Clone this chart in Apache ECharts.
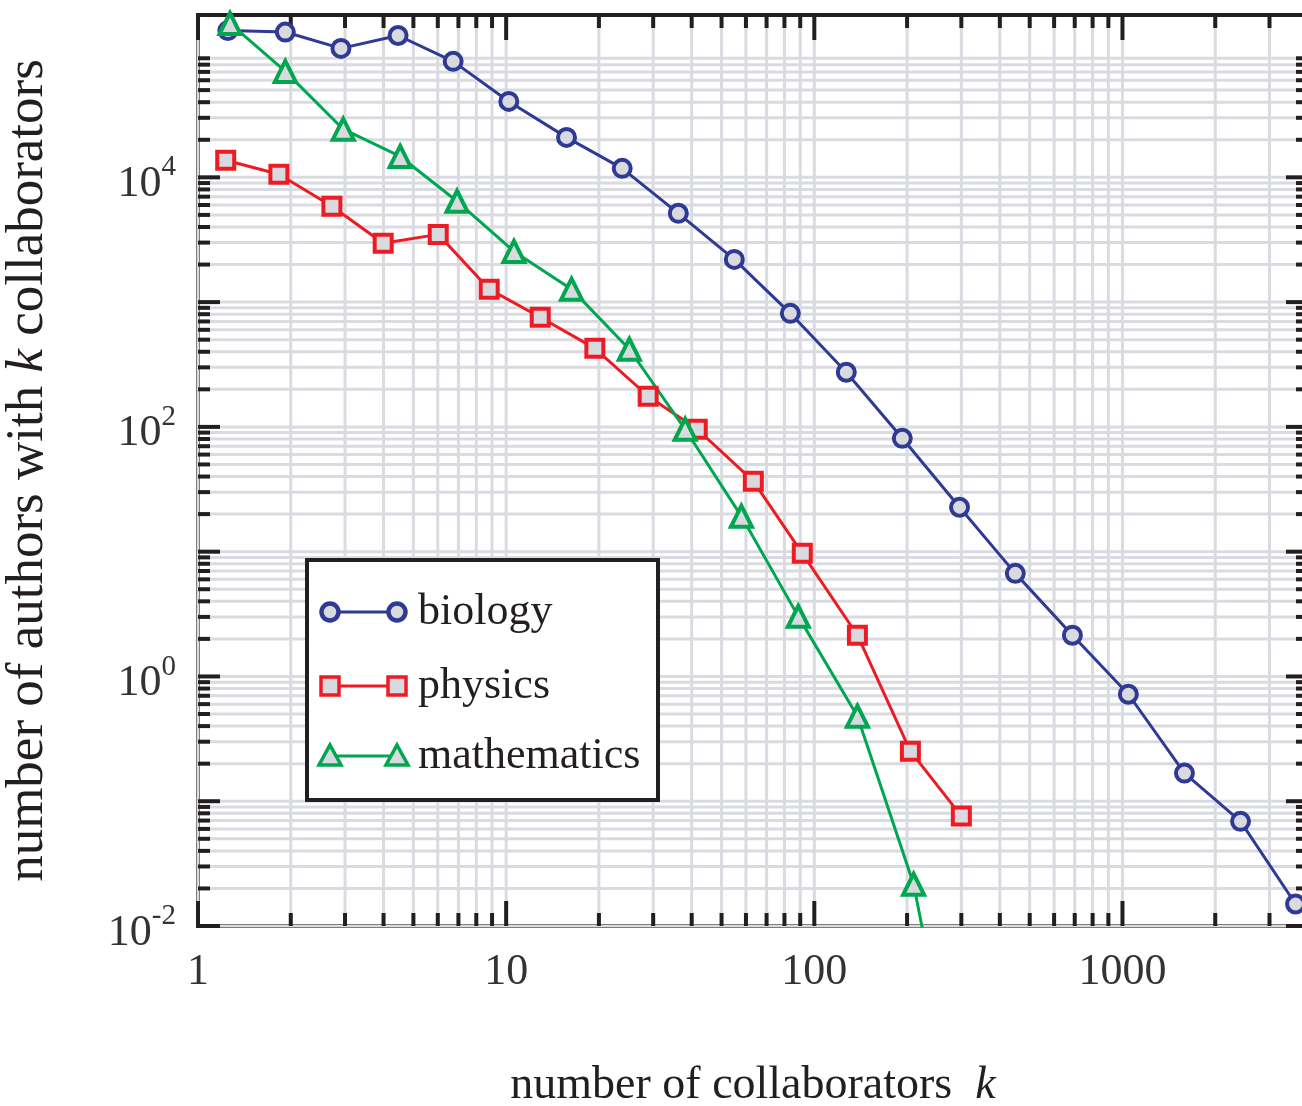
<!DOCTYPE html>
<html>
<head>
<meta charset="utf-8">
<title>collaborators</title>
<script src="https://cdn.jsdelivr.net/npm/echarts@6/dist/echarts.min.js"></script>
<style>
    html,body{margin:0;padding:0;background:#fff;}
    #container{width:1302px;height:1106px;}
</style>
</head>
<body>
<div id="container"></div>
<script>
// values (k, number of authors)
var bioK=[1.25,1.92,2.91,4.46,6.73,10.2,15.7,23.8,36.2,55,83.6,127,193,296,449,688,1045,1589,2416,3645];
var bioN=[1.5e5,1.46e5,1.08e5,1.37e5,8.5e4,4.06e4,2.09e4,1.18e4,5150,2200,813,274,81,22.7,6.7,2.14,0.72,0.168,0.069,0.015];

var physK=[1.23,1.83,2.72,3.99,6.02,8.81,12.9,19.4,28.9,41.7,63.4,91.4,138,205,300];
var physN=[1.37e4,1.06e4,5860,2960,3490,1270,756,426,176,95.7,36.7,9.7,2.14,0.252,0.076];

var mathK=[1.27,1.92,2.96,4.53,6.93,10.6,16.3,25.1,38.1,58,88.7,138,210,300];
var mathN=[1.71e5,7.06e4,2.43e4,1.47e4,6430,2550,1270,419,95.7,19.2,3.03,0.48,0.0216,2.5e-4];

var names=['biology','physics','mathematics'];

var xMin=1,xMax=4000;
var yMin=0.01,yMax=2e5;

var BLUE='#2e3a94',RED='#ed1c24',GREEN='#00a650';
var FILL='#d9dadf',GRID='#d9dbe0',INK='#231f20';
var FONT='Liberation Serif';

function pairs(ks,ns){
    var out=[];
    for(var i=0;i<ks.length;i++){
        out.push([ks[i],ns[i]]);
    }
    return out;
}

// every 1..9 x 10^n inside [lo,hi]
function logSteps(lo,hi){
    var out=[];
    for(var n=-3;n<=4;n++){
        for(var k=1;k<=9;k++){
            var v=k*Math.pow(10,n);
            if(v>=lo*0.9999 && v<=hi*1.0001){
                out.push(+v.toPrecision(6));
            }
        }
    }
    return out;
}
function isDecade(v){
    var e=Math.log10(v);
    return Math.abs(e-Math.round(e))<1e-6;
}

var xSteps=logSteps(xMin,xMax).map(function(v){return [v,1];});
var ySteps=logSteps(yMin,yMax).map(function(v){return [1,v];});

function vLines(params,api){
    var cs=params.coordSys;
    var x=api.coord([api.value(0),1])[0];
    return {type:'line',shape:{x1:x,y1:cs.y,x2:x,y2:cs.y+cs.height},style:{stroke:GRID,lineWidth:3}};
}
function hLines(params,api){
    var cs=params.coordSys;
    var y=api.coord([1,api.value(1)])[1];
    return {type:'line',shape:{x1:cs.x,y1:y,x2:cs.x+cs.width,y2:y},style:{stroke:GRID,lineWidth:3}};
}
function vTicks(params,api){
    var cs=params.coordSys;
    var v=api.value(0);
    var x=api.coord([v,1])[0];
    var len=isDecade(v)?25:13;
    var b=cs.y+cs.height;
    return {type:'group',children:[
        {type:'line',shape:{x1:x,y1:b,x2:x,y2:b-len},style:{stroke:INK,lineWidth:4}},
        {type:'line',shape:{x1:x,y1:cs.y,x2:x,y2:cs.y+len},style:{stroke:INK,lineWidth:4}}
    ]};
}
function hTicks(params,api){
    var cs=params.coordSys;
    var v=api.value(1);
    var y=api.coord([1,v])[1];
    var len=isDecade(v)?22:12;
    var r=cs.x+cs.width;
    return {type:'group',children:[
        {type:'line',shape:{x1:cs.x,y1:y,x2:cs.x+len,y2:y},style:{stroke:INK,lineWidth:4}},
        {type:'line',shape:{x1:r,y1:y,x2:r-len,y2:y},style:{stroke:INK,lineWidth:4}}
    ]};
}

function dataSeries(name,ks,ns,color,symbol,size){
    return {
        name:name,
        type:'line',
        data:pairs(ks,ns),
        symbol:symbol,
        symbolSize:size,
        showAllSymbol:true,
        clip:true,
        z:5,
        lineStyle:{color:color,width:3},
        itemStyle:{color:FILL,borderColor:color,borderWidth:4},
        emphasis:{disabled:true}
    };
}

// legend box drawn like the original: symbol - line - symbol, then name
function legendItem(y,color,symbol,label){
    var kids=[];
    kids.push({type:'line',z:101,shape:{x1:330,y1:y,x2:397,y2:y},style:{stroke:color,lineWidth:3}});
    var xs=[330,397];
    for(var i=0;i<2;i++){
        var cx=xs[i];
        if(symbol=='circle'){
            kids.push({type:'circle',z:102,shape:{cx:cx,cy:y,r:8.5},style:{fill:FILL,stroke:color,lineWidth:4.5}});
        }else if(symbol=='rect'){
            kids.push({type:'rect',z:102,shape:{x:cx-9,y:y-9,width:18,height:18},style:{fill:FILL,stroke:color,lineWidth:3.5}});
        }else{
            kids.push({type:'polygon',z:102,shape:{points:[[cx,y-11],[cx+11,y+9],[cx-11,y+9]]},style:{fill:FILL,stroke:color,lineWidth:3.5}});
        }
    }
    kids.push({type:'text',z:102,x:418,y:y,style:{text:label,fill:INK,font:'44px "'+FONT+'"',textVerticalAlign:'middle'}});
    return kids;
}

var legendKids=[{type:'rect',z:100,shape:{x:307,y:560,width:351,height:240},style:{fill:'#fff',stroke:INK,lineWidth:4}}]
    .concat(legendItem(612,BLUE,'circle',names[0]))
    .concat(legendItem(686,RED,'rect',names[1]))
    .concat(legendItem(756,GREEN,'triangle',names[2]));

var dom=document.getElementById('container');
var myChart=echarts.init(dom,null,{renderer:'canvas'});
var option={
    backgroundColor:'#ffffff',
    animation:false,
    grid:{
        left:198,
        top:15,
        right:-6,
        bottom:180,
        outerBoundsMode:'none',
        containLabel:false,
        show:true,
        borderColor:INK,
        borderWidth:4,
        backgroundColor:'transparent'
    },
    xAxis:{
        type:'log',
        logBase:10,
        min:xMin,
        max:xMax,
        name:'number of collaborators  {i|k}',
        nameLocation:'middle',
        nameGap:137,
        nameTextStyle:{
            fontFamily:FONT,fontSize:46,color:INK,
            rich:{i:{fontFamily:FONT,fontSize:46,fontStyle:'italic',color:INK}}
        },
        axisLine:{show:false},
        axisTick:{show:false},
        splitLine:{show:false},
        minorTick:{show:false},
        axisLabel:{
            margin:24,
            fontFamily:FONT,
            fontSize:44,
            color:'#333',
            formatter:function(v){
                if(!isDecade(v)) return '';
                return String(Math.round(v));
            }
        }
    },
    yAxis:{
        type:'log',
        logBase:10,
        min:yMin,
        max:yMax,
        name:'number of authors with {i|k} collaborators',
        nameLocation:'middle',
        nameGap:143,
        nameRotate:90,
        nameTextStyle:{
            fontFamily:FONT,fontSize:53,color:INK,
            rich:{i:{fontFamily:FONT,fontSize:53,fontStyle:'italic',color:INK}}
        },
        axisLine:{show:false},
        axisTick:{show:false},
        splitLine:{show:false},
        minorTick:{show:false},
        axisLabel:{
            margin:22,
            color:'#333',
            formatter:function(v){
                var e=Math.round(Math.log10(v));
                if(!isDecade(v) || e%2!=0) return '';
                return '{b|10}{e|'+e+'}';
            },
            rich:{
                b:{fontFamily:FONT,fontSize:44,color:'#333',lineHeight:48,padding:[14,0,0,0]},
                e:{fontFamily:FONT,fontSize:29,color:'#333',verticalAlign:'top',lineHeight:29}
            }
        }
    },
    series:[
        {type:'custom',renderItem:vLines,data:xSteps,silent:true,z:1,clip:false},
        {type:'custom',renderItem:hLines,data:ySteps,silent:true,z:1,clip:false},
        {type:'custom',renderItem:vTicks,data:xSteps,silent:true,z:3,clip:false},
        {type:'custom',renderItem:hTicks,data:ySteps,silent:true,z:3,clip:false},
        dataSeries(names[0],bioK,bioN,BLUE,'circle',17),
        dataSeries(names[1],physK,physN,RED,'rect',17),
        dataSeries(names[2],mathK,mathN,GREEN,'triangle',21)
    ],
    graphic:{elements:[{type:'group',z:100,children:legendKids}]}
};
if (option && typeof option === "object") {
    myChart.setOption(option,true);
}
</script>
</body>
</html>
